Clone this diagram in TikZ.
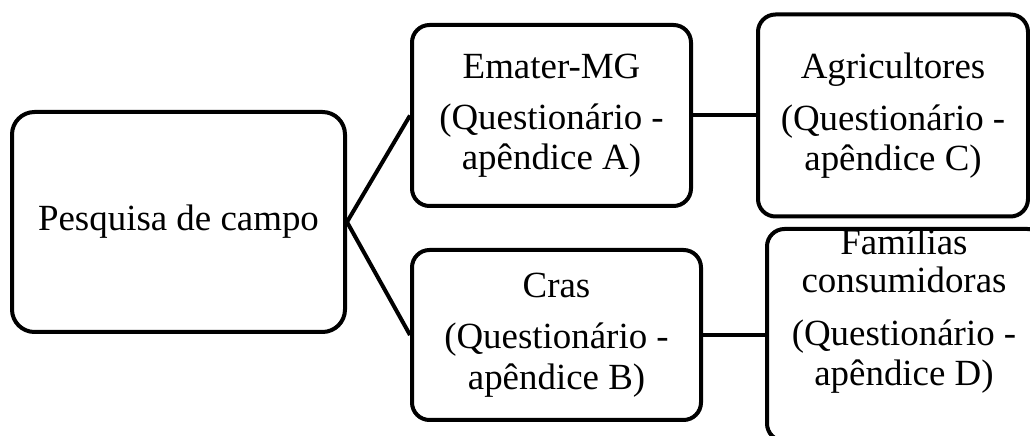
\documentclass[tikz,border=0pt]{standalone}
\usepackage{fontspec}
\setmainfont{Liberation Serif}

\begin{document}
\begin{tikzpicture}
\useasboundingbox (0,0) rectangle (20.6,8.72);
\clip (0,0) rectangle (20.6,8.72);

\begin{scope}[every node/.style={rectangle,rounded corners=0.35cm,draw,line width=0.08cm,
              align=center,font=\fontsize{21}{22.8}\selectfont}]
    \node[minimum width=6.66cm,minimum height=4.4cm,rounded corners=0.45cm] (campo) at (3.57,4.28) {Pesquisa de campo};
    \node[minimum width=5.58cm,minimum height=3.62cm] (emater) at (11.03,6.41) {Emater-MG\\[6.5pt](Questionário -\\apêndice A)};
    \node[minimum width=5.4cm,minimum height=4.04cm] (agricultores) at (17.86,6.41) {Agricultores\\[6.5pt](Questionário -\\apêndice C)};
    \node[minimum width=5.78cm,minimum height=3.4cm] (cras) at (11.13,2.02) {Cras\\[6.5pt](Questionário -\\apêndice B)};
    \node[minimum width=5.56cm,minimum height=4.24cm] (familias) at (18.12,2.02) {};

    \end{scope}

\node[align=center,font=\fontsize{21}{22.8}\selectfont] (familiastxt) at (18.08,2.5) {Famílias\\[-1pt]consumidoras\\[7pt](Questionário -\\apêndice D)};

\begin{scope}[every edge/.style={draw=black,line width=0.08cm}]
    \path (campo.east) edge (emater.west);
    \path (campo.east) edge (cras.west);
    \path (emater) edge (agricultores);
    \path (cras) edge (familias);

    \end{scope}

\end{tikzpicture}
\end{document}
